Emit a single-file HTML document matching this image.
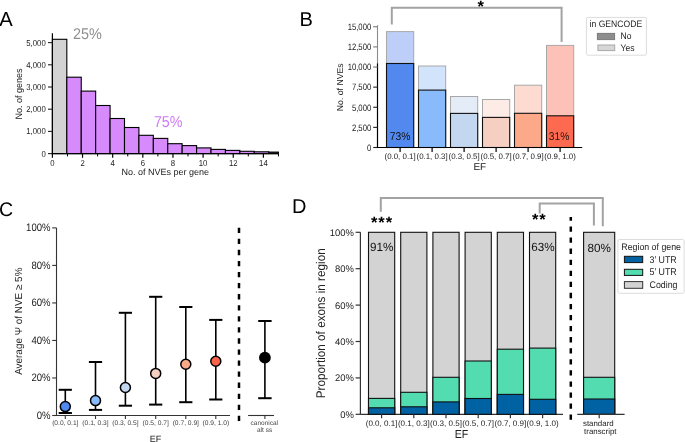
<!DOCTYPE html>
<html><head><meta charset="utf-8"><title>Figure</title>
<style>
html,body{margin:0;padding:0;background:#fff;}
body{width:685px;height:442px;overflow:hidden;}
svg{display:block;font-family:"Liberation Sans",sans-serif;will-change:transform;}
text{text-rendering:geometricPrecision;}
</style></head>
<body>
<svg width="685" height="442" viewBox="0 0 685 442">
<rect x="0" y="0" width="685" height="442" fill="#fff"/>
<text x="-0.7" y="26" font-size="20.2" text-anchor="start" fill="#000" >A</text>
<rect x="52.4" y="39.3" width="14.42" height="114.3" fill="#d3d3d3" stroke="#000" stroke-width="1.1" />
<rect x="66.82" y="77.2" width="14.42" height="76.4" fill="#d78afb" stroke="#000" stroke-width="1.1" />
<rect x="81.24" y="91.1" width="14.42" height="62.5" fill="#d78afb" stroke="#000" stroke-width="1.1" />
<rect x="95.66" y="105.5" width="14.42" height="48.1" fill="#d78afb" stroke="#000" stroke-width="1.1" />
<rect x="110.08" y="118.5" width="14.42" height="35.1" fill="#d78afb" stroke="#000" stroke-width="1.1" />
<rect x="124.5" y="127.5" width="14.42" height="26.1" fill="#d78afb" stroke="#000" stroke-width="1.1" />
<rect x="138.92" y="135.3" width="14.42" height="18.3" fill="#d78afb" stroke="#000" stroke-width="1.1" />
<rect x="153.34" y="138.4" width="14.42" height="15.2" fill="#d78afb" stroke="#000" stroke-width="1.1" />
<rect x="167.76" y="143.7" width="14.42" height="9.9" fill="#d78afb" stroke="#000" stroke-width="1.1" />
<rect x="182.18" y="145.6" width="14.42" height="8" fill="#d78afb" stroke="#000" stroke-width="1.1" />
<rect x="196.6" y="147.9" width="14.42" height="5.7" fill="#d78afb" stroke="#000" stroke-width="1.1" />
<rect x="211.02" y="149.4" width="14.42" height="4.2" fill="#d78afb" stroke="#000" stroke-width="1.1" />
<rect x="225.44" y="150.4" width="14.42" height="3.2" fill="#d78afb" stroke="#000" stroke-width="1.1" />
<rect x="239.86" y="151.3" width="14.42" height="2.3" fill="#d78afb" stroke="#000" stroke-width="1.1" />
<rect x="254.28" y="151.8" width="14.42" height="1.8" fill="#d78afb" stroke="#000" stroke-width="1.1" />
<rect x="268.7" y="152.1" width="9.7" height="1.5" fill="#3a1a44" stroke="#000" stroke-width="1.1" />
<line x1="52.4" y1="33.3" x2="52.4" y2="154.2" stroke="#000" stroke-width="1.2" />
<line x1="48" y1="153.6" x2="52.4" y2="153.6" stroke="#222" stroke-width="1.1" />
<text transform="translate(45.7,156.6) scale(1,1.12)" font-size="7.75" text-anchor="end" fill="#222" >0</text>
<line x1="48" y1="131.4" x2="52.4" y2="131.4" stroke="#222" stroke-width="1.1" />
<text transform="translate(45.7,134.4) scale(1,1.12)" font-size="7.75" text-anchor="end" fill="#222" >1,000</text>
<line x1="48" y1="109.2" x2="52.4" y2="109.2" stroke="#222" stroke-width="1.1" />
<text transform="translate(45.7,112.2) scale(1,1.12)" font-size="7.75" text-anchor="end" fill="#222" >2,000</text>
<line x1="48" y1="87" x2="52.4" y2="87" stroke="#222" stroke-width="1.1" />
<text transform="translate(45.7,90) scale(1,1.12)" font-size="7.75" text-anchor="end" fill="#222" >3,000</text>
<line x1="48" y1="64.8" x2="52.4" y2="64.8" stroke="#222" stroke-width="1.1" />
<text transform="translate(45.7,67.8) scale(1,1.12)" font-size="7.75" text-anchor="end" fill="#222" >4,000</text>
<line x1="48" y1="42.6" x2="52.4" y2="42.6" stroke="#222" stroke-width="1.1" />
<text transform="translate(45.7,45.6) scale(1,1.12)" font-size="7.75" text-anchor="end" fill="#222" >5,000</text>
<line x1="51.8" y1="153.6" x2="278.6" y2="153.6" stroke="#000" stroke-width="1.2" />
<line x1="52.4" y1="153.6" x2="52.4" y2="157.8" stroke="#000" stroke-width="1.2" />
<text transform="translate(52.4,165.6) scale(1,1.12)" font-size="7.75" text-anchor="middle" fill="#222" >0</text>
<line x1="67.47" y1="153.6" x2="67.47" y2="156.4" stroke="#000" stroke-width="1.0" />
<line x1="82.54" y1="153.6" x2="82.54" y2="157.8" stroke="#000" stroke-width="1.2" />
<text transform="translate(82.54,165.6) scale(1,1.12)" font-size="7.75" text-anchor="middle" fill="#222" >2</text>
<line x1="97.61" y1="153.6" x2="97.61" y2="156.4" stroke="#000" stroke-width="1.0" />
<line x1="112.68" y1="153.6" x2="112.68" y2="157.8" stroke="#000" stroke-width="1.2" />
<text transform="translate(112.68,165.6) scale(1,1.12)" font-size="7.75" text-anchor="middle" fill="#222" >4</text>
<line x1="127.75" y1="153.6" x2="127.75" y2="156.4" stroke="#000" stroke-width="1.0" />
<line x1="142.82" y1="153.6" x2="142.82" y2="157.8" stroke="#000" stroke-width="1.2" />
<text transform="translate(142.82,165.6) scale(1,1.12)" font-size="7.75" text-anchor="middle" fill="#222" >6</text>
<line x1="157.89" y1="153.6" x2="157.89" y2="156.4" stroke="#000" stroke-width="1.0" />
<line x1="172.96" y1="153.6" x2="172.96" y2="157.8" stroke="#000" stroke-width="1.2" />
<text transform="translate(172.96,165.6) scale(1,1.12)" font-size="7.75" text-anchor="middle" fill="#222" >8</text>
<line x1="188.03" y1="153.6" x2="188.03" y2="156.4" stroke="#000" stroke-width="1.0" />
<line x1="203.1" y1="153.6" x2="203.1" y2="157.8" stroke="#000" stroke-width="1.2" />
<text transform="translate(203.1,165.6) scale(1,1.12)" font-size="7.75" text-anchor="middle" fill="#222" >10</text>
<line x1="218.17" y1="153.6" x2="218.17" y2="156.4" stroke="#000" stroke-width="1.0" />
<line x1="233.24" y1="153.6" x2="233.24" y2="157.8" stroke="#000" stroke-width="1.2" />
<text transform="translate(233.24,165.6) scale(1,1.12)" font-size="7.75" text-anchor="middle" fill="#222" >12</text>
<line x1="248.31" y1="153.6" x2="248.31" y2="156.4" stroke="#000" stroke-width="1.0" />
<line x1="263.38" y1="153.6" x2="263.38" y2="157.8" stroke="#000" stroke-width="1.2" />
<text transform="translate(263.38,165.6) scale(1,1.12)" font-size="7.75" text-anchor="middle" fill="#222" >14</text>
<line x1="278.45" y1="153.6" x2="278.45" y2="156.4" stroke="#000" stroke-width="1.0" />
<text transform="translate(72.9,38.6) scale(1,1.08)" font-size="14.4" text-anchor="start" fill="#8f8f8f" >25%</text>
<text transform="translate(153.9,126.6) scale(1,1.1)" font-size="14.3" text-anchor="start" fill="#d07af7" >75%</text>
<text transform="translate(21.8,94) rotate(-90) scale(1,1.05)" font-size="9" text-anchor="middle" fill="#222">No. of genes</text>
<text x="165.2" y="175" font-size="9" text-anchor="middle" fill="#222" >No. of NVEs per gene</text>
<text x="299.4" y="25.8" font-size="20" text-anchor="start" fill="#000" >B</text>
<rect x="386.5" y="31.6" width="27.2" height="115.9" fill="#bdcff8" stroke="#a8a8a8" stroke-width="1.0" />
<rect x="386.5" y="63.5" width="27.2" height="84" fill="#5289ee" stroke="#111" stroke-width="1.1" />
<line x1="400.1" y1="147.5" x2="400.1" y2="151.9" stroke="#000" stroke-width="1.2" />
<text x="400.1" y="159" font-size="7.9" text-anchor="middle" fill="#222" >(0.0, 0.1]</text>
<rect x="418.5" y="66" width="27.2" height="81.5" fill="#d2e4fc" stroke="#a8a8a8" stroke-width="1.0" />
<rect x="418.5" y="90.1" width="27.2" height="57.4" fill="#88bafc" stroke="#111" stroke-width="1.1" />
<line x1="432.1" y1="147.5" x2="432.1" y2="151.9" stroke="#000" stroke-width="1.2" />
<text x="432.1" y="159" font-size="7.9" text-anchor="middle" fill="#222" >(0.1, 0.3]</text>
<rect x="450.5" y="96.5" width="27.2" height="51" fill="#e4ecf8" stroke="#a8a8a8" stroke-width="1.0" />
<rect x="450.5" y="113.4" width="27.2" height="34.1" fill="#c4d7f1" stroke="#111" stroke-width="1.1" />
<line x1="464.1" y1="147.5" x2="464.1" y2="151.9" stroke="#000" stroke-width="1.2" />
<text x="464.1" y="159" font-size="7.9" text-anchor="middle" fill="#222" >(0.3, 0.5]</text>
<rect x="482.5" y="99.5" width="27.2" height="48" fill="#fdebe5" stroke="#a8a8a8" stroke-width="1.0" />
<rect x="482.5" y="117.4" width="27.2" height="30.1" fill="#f5d0c2" stroke="#111" stroke-width="1.1" />
<line x1="496.1" y1="147.5" x2="496.1" y2="151.9" stroke="#000" stroke-width="1.2" />
<text x="496.1" y="159" font-size="7.9" text-anchor="middle" fill="#222" >(0.5, 0.7]</text>
<rect x="514.5" y="85.2" width="27.2" height="62.3" fill="#fddbd0" stroke="#a8a8a8" stroke-width="1.0" />
<rect x="514.5" y="113.3" width="27.2" height="34.2" fill="#fca98a" stroke="#111" stroke-width="1.1" />
<line x1="528.1" y1="147.5" x2="528.1" y2="151.9" stroke="#000" stroke-width="1.2" />
<text x="528.1" y="159" font-size="7.9" text-anchor="middle" fill="#222" >(0.7, 0.9]</text>
<rect x="546.5" y="45.4" width="27.2" height="102.1" fill="#fdc1b7" stroke="#a8a8a8" stroke-width="1.0" />
<rect x="546.5" y="115.8" width="27.2" height="31.7" fill="#fd6a4f" stroke="#111" stroke-width="1.1" />
<line x1="560.1" y1="147.5" x2="560.1" y2="151.9" stroke="#000" stroke-width="1.2" />
<text x="560.1" y="159" font-size="7.9" text-anchor="middle" fill="#222" >(0.9, 1.0)</text>
<line x1="377.5" y1="25.2" x2="377.5" y2="63.3" stroke="#8a8a8a" stroke-width="1.1" />
<line x1="377.5" y1="63.3" x2="377.5" y2="148.1" stroke="#000" stroke-width="1.2" />
<line x1="373.2" y1="147.5" x2="377.5" y2="147.5" stroke="#222" stroke-width="1.1" />
<text transform="translate(371.2,150.8) scale(1,1.2)" font-size="7.7" text-anchor="end" fill="#222" >0</text>
<line x1="373.2" y1="127.38" x2="377.5" y2="127.38" stroke="#222" stroke-width="1.1" />
<text transform="translate(371.2,130.68) scale(1,1.2)" font-size="7.7" text-anchor="end" fill="#222" >2,500</text>
<line x1="373.2" y1="107.26" x2="377.5" y2="107.26" stroke="#222" stroke-width="1.1" />
<text transform="translate(371.2,110.56) scale(1,1.2)" font-size="7.7" text-anchor="end" fill="#222" >5,000</text>
<line x1="373.2" y1="87.14" x2="377.5" y2="87.14" stroke="#222" stroke-width="1.1" />
<text transform="translate(371.2,90.44) scale(1,1.2)" font-size="7.7" text-anchor="end" fill="#222" >7,500</text>
<line x1="373.2" y1="67.02" x2="377.5" y2="67.02" stroke="#777" stroke-width="1.1" />
<text transform="translate(371.2,70.32) scale(1,1.2)" font-size="7.7" text-anchor="end" fill="#222" >10,000</text>
<line x1="373.2" y1="46.9" x2="377.5" y2="46.9" stroke="#777" stroke-width="1.1" />
<text transform="translate(371.2,50.2) scale(1,1.2)" font-size="7.7" text-anchor="end" fill="#222" >12,500</text>
<line x1="373.2" y1="26.78" x2="377.5" y2="26.78" stroke="#777" stroke-width="1.1" />
<text transform="translate(371.2,30.08) scale(1,1.2)" font-size="7.7" text-anchor="end" fill="#222" >15,000</text>
<line x1="376.9" y1="147.5" x2="582.2" y2="147.5" stroke="#000" stroke-width="1.2" />
<text x="479.8" y="170.1" font-size="10" text-anchor="middle" fill="#222" >EF</text>
<text transform="translate(343.4,87.3) rotate(-90) scale(1,1)" font-size="8.7" text-anchor="middle" fill="#222">No. of NVEs</text>
<polyline points="391.8,24.5 391.8,7.7 561.6,7.7 561.6,41.9" fill="none" stroke="#a3a3a3" stroke-width="2"/>
<text x="480.6" y="11.8" font-size="16.5" text-anchor="middle" fill="#000" font-weight="bold">*</text>
<text transform="translate(389.7,139.8) scale(1,1.1)" font-size="10.3" text-anchor="start" fill="#111" >73%</text>
<text transform="translate(548.7,139.8) scale(1,1.1)" font-size="10.3" text-anchor="start" fill="#2a1410" >31%</text>
<rect x="586.4" y="17.4" width="60" height="37.8" fill="#fff" stroke="#dcdcdc" stroke-width="1.0" rx="1.5"/>
<text transform="translate(589.6,27.3) scale(1,1.08)" font-size="8.6" text-anchor="start" fill="#222" >in GENCODE</text>
<rect x="597.4" y="33.4" width="17.2" height="6.2" fill="#8d8d8d" stroke="#7a7a7a" stroke-width="1.0" />
<rect x="597.9" y="45" width="16.8" height="5.6" fill="#d6d6d6" stroke="#a8a8a8" stroke-width="1.0" />
<text transform="translate(620.6,39.3) scale(1,1.08)" font-size="8.6" text-anchor="start" fill="#222" >No</text>
<text transform="translate(620.6,50.8) scale(1,1.08)" font-size="8.6" text-anchor="start" fill="#222" >Yes</text>
<text x="-1" y="215.6" font-size="19.6" text-anchor="start" fill="#000" >C</text>
<line x1="56.5" y1="227.9" x2="56.5" y2="416" stroke="#333" stroke-width="1.1" />
<line x1="52.2" y1="415.5" x2="56.5" y2="415.5" stroke="#333" stroke-width="1.1" />
<text transform="translate(50.5,418.8) scale(1,1.14)" font-size="9.55" text-anchor="end" fill="#222" >0%</text>
<line x1="52.2" y1="377.98" x2="56.5" y2="377.98" stroke="#333" stroke-width="1.1" />
<text transform="translate(50.5,381.28) scale(1,1.14)" font-size="9.55" text-anchor="end" fill="#222" >20%</text>
<line x1="52.2" y1="340.46" x2="56.5" y2="340.46" stroke="#333" stroke-width="1.1" />
<text transform="translate(50.5,343.76) scale(1,1.14)" font-size="9.55" text-anchor="end" fill="#222" >40%</text>
<line x1="52.2" y1="302.94" x2="56.5" y2="302.94" stroke="#333" stroke-width="1.1" />
<text transform="translate(50.5,306.24) scale(1,1.14)" font-size="9.55" text-anchor="end" fill="#222" >60%</text>
<line x1="52.2" y1="265.42" x2="56.5" y2="265.42" stroke="#333" stroke-width="1.1" />
<text transform="translate(50.5,268.72) scale(1,1.14)" font-size="9.55" text-anchor="end" fill="#222" >80%</text>
<line x1="52.2" y1="227.9" x2="56.5" y2="227.9" stroke="#333" stroke-width="1.1" />
<text transform="translate(50.5,231.2) scale(1,1.14)" font-size="9.55" text-anchor="end" fill="#222" >100%</text>
<line x1="56.5" y1="415.5" x2="230" y2="415.5" stroke="#333" stroke-width="1.1" />
<line x1="65.3" y1="389.8" x2="65.3" y2="413" stroke="#000" stroke-width="1.6" />
<line x1="58.7" y1="389.8" x2="71.9" y2="389.8" stroke="#000" stroke-width="2.0" />
<line x1="58.7" y1="413" x2="71.9" y2="413" stroke="#000" stroke-width="2.0" />
<circle cx="65.3" cy="406.6" r="5.0" fill="#5289ee" stroke="#000" stroke-width="1.5"/>
<line x1="65.3" y1="415.5" x2="65.3" y2="419" stroke="#333" stroke-width="1.1" />
<text x="65.3" y="425.2" font-size="6.66" text-anchor="middle" fill="#444" >(0.0, 0.1]</text>
<line x1="95.5" y1="362" x2="95.5" y2="409.9" stroke="#000" stroke-width="1.6" />
<line x1="88.9" y1="362" x2="102.1" y2="362" stroke="#000" stroke-width="2.0" />
<line x1="88.9" y1="409.9" x2="102.1" y2="409.9" stroke="#000" stroke-width="2.0" />
<circle cx="95.5" cy="400.6" r="5.0" fill="#88bafc" stroke="#000" stroke-width="1.5"/>
<line x1="95.5" y1="415.5" x2="95.5" y2="419" stroke="#333" stroke-width="1.1" />
<text x="95.5" y="425.2" font-size="6.66" text-anchor="middle" fill="#444" >(0.1, 0.3]</text>
<line x1="125.4" y1="312.8" x2="125.4" y2="405.7" stroke="#000" stroke-width="1.6" />
<line x1="118.8" y1="312.8" x2="132" y2="312.8" stroke="#000" stroke-width="2.0" />
<line x1="118.8" y1="405.7" x2="132" y2="405.7" stroke="#000" stroke-width="2.0" />
<circle cx="125.4" cy="387.5" r="5.0" fill="#c4d7f1" stroke="#000" stroke-width="1.5"/>
<line x1="125.4" y1="415.5" x2="125.4" y2="419" stroke="#333" stroke-width="1.1" />
<text x="125.4" y="425.2" font-size="6.66" text-anchor="middle" fill="#444" >(0.3, 0.5]</text>
<line x1="155.7" y1="296.8" x2="155.7" y2="404.6" stroke="#000" stroke-width="1.6" />
<line x1="149.1" y1="296.8" x2="162.3" y2="296.8" stroke="#000" stroke-width="2.0" />
<line x1="149.1" y1="404.6" x2="162.3" y2="404.6" stroke="#000" stroke-width="2.0" />
<circle cx="155.7" cy="373.4" r="5.0" fill="#f5cfc2" stroke="#000" stroke-width="1.5"/>
<line x1="155.7" y1="415.5" x2="155.7" y2="419" stroke="#333" stroke-width="1.1" />
<text x="155.7" y="425.2" font-size="6.66" text-anchor="middle" fill="#444" >(0.5, 0.7]</text>
<line x1="185.8" y1="307" x2="185.8" y2="402.2" stroke="#000" stroke-width="1.6" />
<line x1="179.2" y1="307" x2="192.4" y2="307" stroke="#000" stroke-width="2.0" />
<line x1="179.2" y1="402.2" x2="192.4" y2="402.2" stroke="#000" stroke-width="2.0" />
<circle cx="185.8" cy="364.2" r="5.0" fill="#fca98a" stroke="#000" stroke-width="1.5"/>
<line x1="185.8" y1="415.5" x2="185.8" y2="419" stroke="#333" stroke-width="1.1" />
<text x="185.8" y="425.2" font-size="6.66" text-anchor="middle" fill="#444" >(0.7, 0.9]</text>
<line x1="215.8" y1="319.9" x2="215.8" y2="399.5" stroke="#000" stroke-width="1.6" />
<line x1="209.2" y1="319.9" x2="222.4" y2="319.9" stroke="#000" stroke-width="2.0" />
<line x1="209.2" y1="399.5" x2="222.4" y2="399.5" stroke="#000" stroke-width="2.0" />
<circle cx="215.8" cy="361.3" r="5.0" fill="#f9634a" stroke="#000" stroke-width="1.5"/>
<line x1="215.8" y1="415.5" x2="215.8" y2="419" stroke="#333" stroke-width="1.1" />
<text x="215.8" y="425.2" font-size="6.66" text-anchor="middle" fill="#444" >(0.9, 1.0)</text>
<line x1="248.1" y1="415.5" x2="274" y2="415.5" stroke="#333" stroke-width="1.1" />
<line x1="264.9" y1="415.5" x2="264.9" y2="419" stroke="#333" stroke-width="1.1" />
<line x1="264.9" y1="321" x2="264.9" y2="398.2" stroke="#000" stroke-width="1.6" />
<line x1="258.2" y1="321" x2="271.6" y2="321" stroke="#000" stroke-width="2.0" />
<line x1="258.2" y1="398.2" x2="271.6" y2="398.2" stroke="#000" stroke-width="2.0" />
<circle cx="264.9" cy="357.7" r="5.9" fill="#000"/>
<text x="264.3" y="425.4" font-size="6.5" text-anchor="middle" fill="#444" >canonical</text>
<text x="264.6" y="432.4" font-size="6.5" text-anchor="middle" fill="#444" >alt ss</text>
<line x1="239" y1="227.7" x2="239" y2="421.2" stroke="#000" stroke-width="2.5" stroke-dasharray="5.3 5.765"/>
<text transform="translate(22.4,321.2) rotate(-90) scale(1,1.03)" font-size="9.93" text-anchor="middle" fill="#222">Average &#936; of NVE &#8805; 5%</text>
<text x="155.5" y="442.3" font-size="9" text-anchor="middle" fill="#222" >EF</text>
<text x="291.9" y="213.3" font-size="20" text-anchor="start" fill="#000" >D</text>
<line x1="360.4" y1="232.3" x2="360.4" y2="414.8" stroke="#333" stroke-width="1.2" />
<line x1="355.6" y1="414.3" x2="360.4" y2="414.3" stroke="#333" stroke-width="1.2" />
<text transform="translate(353.8,417.8) scale(1,1.02)" font-size="9.45" text-anchor="end" fill="#222" >0%</text>
<line x1="355.6" y1="377.9" x2="360.4" y2="377.9" stroke="#333" stroke-width="1.2" />
<text transform="translate(353.8,381.4) scale(1,1.02)" font-size="9.45" text-anchor="end" fill="#222" >20%</text>
<line x1="355.6" y1="341.5" x2="360.4" y2="341.5" stroke="#333" stroke-width="1.2" />
<text transform="translate(353.8,345) scale(1,1.02)" font-size="9.45" text-anchor="end" fill="#222" >40%</text>
<line x1="355.6" y1="305.1" x2="360.4" y2="305.1" stroke="#333" stroke-width="1.2" />
<text transform="translate(353.8,308.6) scale(1,1.02)" font-size="9.45" text-anchor="end" fill="#222" >60%</text>
<line x1="355.6" y1="268.7" x2="360.4" y2="268.7" stroke="#333" stroke-width="1.2" />
<text transform="translate(353.8,272.2) scale(1,1.02)" font-size="9.45" text-anchor="end" fill="#222" >80%</text>
<line x1="355.6" y1="232.3" x2="360.4" y2="232.3" stroke="#333" stroke-width="1.2" />
<text transform="translate(353.8,235.8) scale(1,1.02)" font-size="9.45" text-anchor="end" fill="#222" >100%</text>
<line x1="360.4" y1="414.3" x2="563" y2="414.3" stroke="#333" stroke-width="1.2" />
<rect x="368.5" y="232.3" width="26.2" height="182" fill="#d3d3d3" stroke="#111" stroke-width="1.1" />
<rect x="368.5" y="398.4" width="26.2" height="15.9" fill="#52dcb0" stroke="#111" stroke-width="1.1" />
<rect x="368.5" y="407.8" width="26.2" height="6.5" fill="#0062a3" stroke="#111" stroke-width="1.1" />
<line x1="381.6" y1="414.3" x2="381.6" y2="418.2" stroke="#333" stroke-width="1.2" />
<text x="381.6" y="426.2" font-size="8.05" text-anchor="middle" fill="#222" >(0.0, 0.1]</text>
<rect x="400.7" y="232.3" width="26.2" height="182" fill="#d3d3d3" stroke="#111" stroke-width="1.1" />
<rect x="400.7" y="392.3" width="26.2" height="22" fill="#52dcb0" stroke="#111" stroke-width="1.1" />
<rect x="400.7" y="406.8" width="26.2" height="7.5" fill="#0062a3" stroke="#111" stroke-width="1.1" />
<line x1="413.8" y1="414.3" x2="413.8" y2="418.2" stroke="#333" stroke-width="1.2" />
<text x="413.8" y="426.2" font-size="8.05" text-anchor="middle" fill="#222" >(0.1, 0.3]</text>
<rect x="432.9" y="232.3" width="26.2" height="182" fill="#d3d3d3" stroke="#111" stroke-width="1.1" />
<rect x="432.9" y="377.3" width="26.2" height="37" fill="#52dcb0" stroke="#111" stroke-width="1.1" />
<rect x="432.9" y="401.9" width="26.2" height="12.4" fill="#0062a3" stroke="#111" stroke-width="1.1" />
<line x1="446" y1="414.3" x2="446" y2="418.2" stroke="#333" stroke-width="1.2" />
<text x="446" y="426.2" font-size="8.05" text-anchor="middle" fill="#222" >(0.3, 0.5]</text>
<rect x="465.1" y="232.3" width="26.2" height="182" fill="#d3d3d3" stroke="#111" stroke-width="1.1" />
<rect x="465.1" y="361" width="26.2" height="53.3" fill="#52dcb0" stroke="#111" stroke-width="1.1" />
<rect x="465.1" y="398.5" width="26.2" height="15.8" fill="#0062a3" stroke="#111" stroke-width="1.1" />
<line x1="478.2" y1="414.3" x2="478.2" y2="418.2" stroke="#333" stroke-width="1.2" />
<text x="478.2" y="426.2" font-size="8.05" text-anchor="middle" fill="#222" >(0.5, 0.7]</text>
<rect x="497.3" y="232.3" width="26.2" height="182" fill="#d3d3d3" stroke="#111" stroke-width="1.1" />
<rect x="497.3" y="349.2" width="26.2" height="65.1" fill="#52dcb0" stroke="#111" stroke-width="1.1" />
<rect x="497.3" y="394.4" width="26.2" height="19.9" fill="#0062a3" stroke="#111" stroke-width="1.1" />
<line x1="510.4" y1="414.3" x2="510.4" y2="418.2" stroke="#333" stroke-width="1.2" />
<text x="510.4" y="426.2" font-size="8.05" text-anchor="middle" fill="#222" >(0.7, 0.9]</text>
<rect x="529.5" y="232.3" width="26.2" height="182" fill="#d3d3d3" stroke="#111" stroke-width="1.1" />
<rect x="529.5" y="348.1" width="26.2" height="66.2" fill="#52dcb0" stroke="#111" stroke-width="1.1" />
<rect x="529.5" y="399.3" width="26.2" height="15" fill="#0062a3" stroke="#111" stroke-width="1.1" />
<line x1="542.6" y1="414.3" x2="542.6" y2="418.2" stroke="#333" stroke-width="1.2" />
<text x="542.6" y="426.2" font-size="8.05" text-anchor="middle" fill="#222" >(0.9, 1.0)</text>
<rect x="583.6" y="232.3" width="31.1" height="182" fill="#d3d3d3" stroke="#111" stroke-width="1.1" />
<rect x="583.6" y="377.3" width="31.1" height="37" fill="#52dcb0" stroke="#111" stroke-width="1.1" />
<rect x="583.6" y="399" width="31.1" height="15.3" fill="#0062a3" stroke="#111" stroke-width="1.1" />
<line x1="577.3" y1="414.3" x2="624.6" y2="414.3" stroke="#333" stroke-width="1.2" />
<line x1="599.2" y1="414.3" x2="599.2" y2="418.2" stroke="#333" stroke-width="1.2" />
<text x="598.3" y="426.1" font-size="7.9" text-anchor="middle" fill="#222" >standard</text>
<text x="600.3" y="434.2" font-size="7.9" text-anchor="middle" fill="#222" >transcript</text>
<line x1="570.8" y1="217" x2="570.8" y2="419.9" stroke="#000" stroke-width="2.5" stroke-dasharray="5.3 5.765" stroke-dashoffset="1.6"/>
<text transform="translate(370,251.2) scale(1,1.02)" font-size="11.7" text-anchor="start" fill="#111" >91%</text>
<text transform="translate(531.3,251.1) scale(1,1.02)" font-size="11.7" text-anchor="start" fill="#111" >63%</text>
<text transform="translate(587.4,251.8) scale(1,1.02)" font-size="11.7" text-anchor="start" fill="#111" >80%</text>
<polyline points="380.8,211.8 380.8,198.0 602.8,198.0 602.8,226.3" fill="none" stroke="#a3a3a3" stroke-width="2"/>
<polyline points="539.7,213.4 539.7,203.4 593.9,203.4 593.9,225.4" fill="none" stroke="#a3a3a3" stroke-width="2"/>
<text x="374.2" y="227.8" font-size="16.5" text-anchor="middle" fill="#000" font-weight="bold">*</text>
<text x="381.55" y="227.8" font-size="16.5" text-anchor="middle" fill="#000" font-weight="bold">*</text>
<text x="388.9" y="227.8" font-size="16.5" text-anchor="middle" fill="#000" font-weight="bold">*</text>
<text x="535.3" y="225.2" font-size="16.5" text-anchor="middle" fill="#000" font-weight="bold">*</text>
<text x="542.4" y="225.2" font-size="16.5" text-anchor="middle" fill="#000" font-weight="bold">*</text>
<rect x="617.9" y="239.5" width="66.2" height="53.8" fill="#fff" stroke="#dcdcdc" stroke-width="1.0" rx="1.5"/>
<text transform="translate(621.3,249.8) scale(1,1.08)" font-size="8.8" text-anchor="start" fill="#222" >Region of gene</text>
<rect x="624.4" y="256.3" width="18.3" height="6.3" fill="#0062a3" stroke="#111" stroke-width="1.0" />
<rect x="624.4" y="269.3" width="18.3" height="6.1" fill="#52dcb0" stroke="#111" stroke-width="1.0" />
<rect x="624.4" y="281.6" width="18.3" height="6.7" fill="#d3d3d3" stroke="#333" stroke-width="1.0" />
<text transform="translate(649.5,262.5) scale(1,1.1)" font-size="8.85" text-anchor="start" fill="#222" >3&#8217; UTR</text>
<text transform="translate(649.5,275.4) scale(1,1.1)" font-size="8.85" text-anchor="start" fill="#222" >5&#8217; UTR</text>
<text transform="translate(649.5,288) scale(1,1.1)" font-size="8.85" text-anchor="start" fill="#222" >Coding</text>
<text transform="translate(325.2,323.3) rotate(-90) scale(1,1.07)" font-size="11.74" text-anchor="middle" fill="#222">Proportion of exons in region</text>
<text transform="translate(461.5,437.8) scale(1,1.1)" font-size="10.6" text-anchor="middle" fill="#222" >EF</text>
</svg>
</body></html>
